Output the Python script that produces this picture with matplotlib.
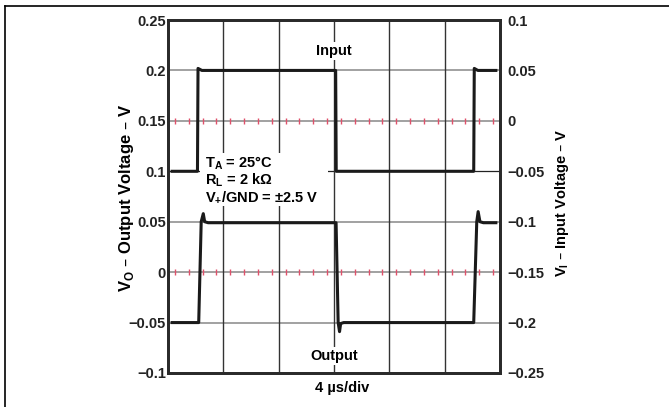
import matplotlib
matplotlib.use("Agg")
import matplotlib.pyplot as plt
from matplotlib.lines import Line2D
from matplotlib.patches import Rectangle
import numpy as np

plt.rcParams['font.family'] = ['Liberation Sans', 'DejaVu Sans']
plt.rcParams['font.weight'] = 'bold'

# time in microseconds (6 divisions of 4 us)
t_input = [0.3, 2.13, 2.17, 2.45, 12.12, 12.16, 22.1, 22.14, 22.4, 23.7]
v_input = [-0.05, -0.05, 0.052, 0.05, 0.05, -0.05, -0.05, 0.052, 0.05, 0.05]

t_output = [0.3, 2.22, 2.4, 2.55, 2.65, 2.9, 12.15, 12.3, 12.4, 12.48, 12.7,
            22.1, 22.32, 22.42, 22.55, 22.8, 23.7]
v_output = [-0.05, -0.05, 0.05, 0.058, 0.05, 0.049, 0.049, -0.05, -0.059, -0.051, -0.05,
            -0.05, 0.05, 0.06, 0.05, 0.049, 0.049]

left_ticks = [0.25, 0.2, 0.15, 0.1, 0.05, 0, -0.05, -0.1]
left_labels = ['0.25', '0.2', '0.15', '0.1', '0.05', '0', '\u22120.05', '\u22120.1']
right_ticks = [0.1, 0.05, 0, -0.05, -0.1, -0.15, -0.2, -0.25]
right_labels = ['0.1', '0.05', '0', '\u22120.05', '\u22120.1', '\u22120.15', '\u22120.2', '\u22120.25']

x_grid = [4, 8, 12, 16, 20]
gray_levels = [0.2, 0.15, 0.05, 0, -0.05]
tick_levels = [0.15, 0]

cond_lines = ['T$_\\mathregular{A}$ = 25\u00b0C',
              'R$_\\mathregular{L}$ = 2 k\u03a9',
              'V$_\\mathregular{+}$/GND = \u00b12.5 V']
cond_y = [0.108, 0.091, 0.074]

fs = 10.5

fig = plt.figure(figsize=(6.69, 4.07), dpi=100)
ax = fig.add_axes([168 / 669, 1 - 373 / 407, 332 / 669, 353 / 407])
ax.set_xlim(0, 24)
ax.set_ylim(-0.1, 0.25)

for yv in gray_levels:
    ax.axhline(yv, color='#9a9a9a', lw=1.3, zorder=1)
ax.axhline(0.1, color='#222222', lw=0.9, zorder=1)
for xv in x_grid:
    ax.axvline(xv, color='#333333', lw=1.0, zorder=1)

# small red division marks on two lines
marks = np.arange(0.5, 24, 1.0)
for yv in tick_levels:
    ax.plot(marks, [yv] * len(marks), ls='none', marker='|', ms=4, mew=1.0,
            color='#e0506a', zorder=2)

ax.plot(t_output, v_output, color='#1a1a1a', lw=2.2, zorder=3)

ax2 = ax.twinx()
ax2.set_ylim(-0.25, 0.1)
ax2.plot(t_input, v_input, color='#1a1a1a', lw=2.2, zorder=3)

ax.set_xticks([])
ax.set_yticks(left_ticks)
ax.set_yticklabels(left_labels, fontsize=fs, fontweight='bold', color='#222222')
ax.tick_params(axis='y', length=0, pad=1.5)
ax2.set_yticks(right_ticks)
ax2.set_yticklabels(right_labels, fontsize=fs, fontweight='bold', color='#222222')
ax2.tick_params(axis='y', length=0, pad=5)

for a in (ax, ax2):
    for s in a.spines.values():
        s.set_color('#2a2a2a')
        s.set_linewidth(2.0)

ax.set_ylabel('V$_\\mathregular{O}$ \u2013 Output Voltage \u2013 V', fontsize=12,
              fontweight='bold')
ax.yaxis.set_label_coords(-0.097, 0.497)
ax2.set_ylabel('V$_\\mathregular{I}$ \u2013 Input Voltage \u2013 V', fontsize=fs,
               fontweight='bold', rotation=90)
ax2.yaxis.set_label_coords(1.16, 0.483)
ax.set_xlabel('4 \u00b5s/div', fontsize=fs, fontweight='bold')
ax.xaxis.set_label_coords(0.524, -0.023)

white = dict(facecolor='white', edgecolor='none', pad=1.5)
ax.text(12, 0.219, 'Input', ha='center', va='center', fontsize=fs, fontweight='bold',
        bbox=white, zorder=2.5)
ax.text(12, -0.083, 'Output', ha='center', va='center', fontsize=fs, fontweight='bold',
        bbox=white, zorder=2.5)

# white panel behind the test conditions
ax.add_patch(Rectangle((2.3, cond_y[-1] - 0.008), 11.6 - 2.3,
                       cond_y[0] - cond_y[-1] + 0.018,
                       facecolor='white', edgecolor='none', zorder=2.4))
for line, yv in zip(cond_lines, cond_y):
    ax.text(2.7, yv, line, fontsize=fs, fontweight='bold', va='center', zorder=2.5)

# outer table border
fig.add_artist(Line2D([5 / 669, 1], [1 - 6 / 407, 1 - 6 / 407], color='black', lw=1.2))
fig.add_artist(Line2D([5 / 669, 5 / 669], [0, 1 - 6 / 407], color='black', lw=1.2))

fig.savefig('out.png', dpi=100)
